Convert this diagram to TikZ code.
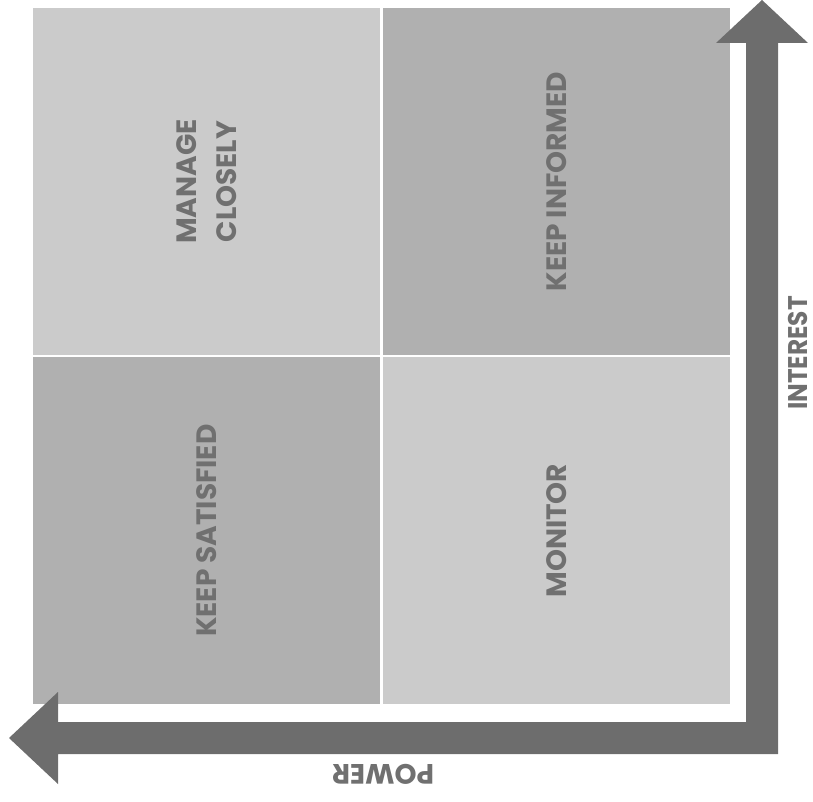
\documentclass[tikz,border=0pt]{standalone}
\usepackage{fontspec}
\setmainfont{Poppins}
\usepackage{tikz}
\usetikzlibrary{positioning}
\definecolor{lightgray}{HTML}{CBCBCB}
\definecolor{midgray}{HTML}{B0B0B0}
\definecolor{arrowgray}{HTML}{6D6D6D}
\definecolor{textgray}{HTML}{707070}

\begin{document}
\begin{tikzpicture}[x=1pt,y=-1pt,
  quad/.style={draw=none,minimum width=347pt,minimum height=347pt,anchor=north west,inner sep=0pt},
  lbl/.style={text=textgray,font=\bfseries\fontsize{28}{40}\selectfont,align=center,inner sep=0pt}]
\useasboundingbox (0,0) rectangle (813,802);
% quadrants
\node[quad,fill=lightgray](tl) at (33,8) {};
\node[quad,fill=midgray](tr) at (383,8) {};
\node[quad,fill=midgray](bl) at (33,357) {};
\node[quad,fill=lightgray](br) at (383,357) {};
% the axes arrow
\fill[arrowgray](778,754)--(778,43)--(808,43)--(762,0)--(716,43)--(746,43)
  --(746,722)--(58,722)--(58,692)--(9,738)--(58,784)--(58,754)--cycle;
% labels
\node[lbl,rotate=90](manage) at (tl.center) {MANAGE\\CLOSELY};
\node[lbl,rotate=90](informed) at (tr.center) {KEEP INFORMED};
\node[lbl,rotate=90](satisfied) at (bl.center) {KEEP SATISFIED};
\node[lbl,rotate=90](monitor) at (br.center) {MONITOR};
\node[lbl,rotate=90,xscale=0.92,font=\bfseries\fontsize{27}{40}\selectfont](interest) at (798,353) {INTEREST};
\node[lbl,rotate=180](power) at (383,774) {POWER};
\end{tikzpicture}
\end{document}
